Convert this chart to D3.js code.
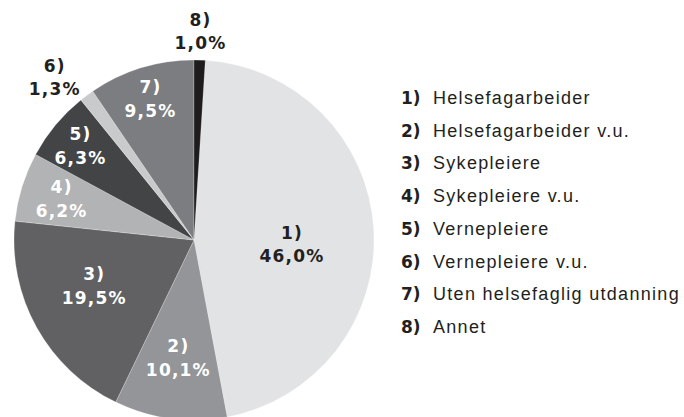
<!DOCTYPE html>
<html>
	<head>
		<title>Utdanning pie</title>
		<meta charset="UTF-8">
		<style type="text/css">
			body { margin: 0; background: #fff; }
			svg { display: block; }
			.lbl { font-family: "DejaVu Sans", sans-serif; font-weight: bold; font-size: 17px; letter-spacing: 1.2px; }
			.leg-num { font-family: "DejaVu Sans", sans-serif; font-weight: bold; font-size: 17px; }
			.leg-txt { font-family: "Liberation Sans", Arial, sans-serif; font-size: 18px; letter-spacing: 1.3px; }
		</style>
		<script src="https://d3js.org/d3.v7.min.js"></script>
	</head>

	<body>
		<script type="text/javascript">

			// data
			var ids = ["1)", "2)", "3)", "4)", "5)", "6)", "7)", "8)"];
			var names = ["Helsefagarbeider", "Helsefagarbeider v.u.", "Sykepleiere", "Sykepleiere v.u.",
				"Vernepleiere", "Vernepleiere v.u.", "Uten helsefaglig utdanning", "Annet"];
			var shares = [46.0, 10.1, 19.5, 6.2, 6.3, 1.3, 9.5, 1.0];
			var shareLabels = ["46,0%", "10,1%", "19,5%", "6,2%", "6,3%", "1,3%", "9,5%", "1,0%"];

			// styling
			var fills = ["#e2e3e5", "#939598", "#616163", "#b2b3b5", "#434446", "#c9cacc", "#7c7d80", "#1e1c1d"];
			var textFills = ["#231f20", "#fff", "#fff", "#fff", "#fff", "#231f20", "#fff", "#231f20"];
			// label placement: radius as fraction of pie radius, small angle shift in degrees
			var labelRadius = [0.545, 0.66, 0.61, 0.77, 0.82, 1.19, 0.82, 1.16];
			var labelShift = [6, 0, 4.5, 0, 0, -4, 0, 0];

			var width = 684, height = 417;
			var cx = 194, cy = 240, radius = 180;

			var svg = d3.select("body")
				.append("svg")
					.attr("width", width)
					.attr("height", height);

			var rows = d3.range(shares.length).map(function(i) {
				return {i: i, value: shares[i]};
			});

			// "Annet" sits first, right after 12 o'clock, then 1) .. 7) clockwise
			var pie = d3.pie()
				.value(function(d) { return d.value; })
				.sort(function(a, b) { return ((a.i + 1) % 8) - ((b.i + 1) % 8); });

			var arcs = pie(rows);

			var arc = d3.arc().innerRadius(0).outerRadius(radius);

			var g = svg.append("g")
				.attr("transform", "translate(" + cx + "," + cy + ")");

			g.selectAll("path.slice")
				.data(arcs)
				.enter()
				.append("path")
					.attr("class", "slice")
					.attr("d", arc)
					.attr("fill", function(d) { return fills[d.data.i]; })
					.attr("stroke", "#fff")
					.attr("stroke-width", 0.4)
					.attr("stroke-opacity", 0.6);

			// labels
			var lab = g.selectAll("text.lbl")
				.data(arcs)
				.enter()
				.append("text")
					.attr("class", "lbl")
					.attr("text-anchor", "middle")
					.attr("fill", function(d) { return textFills[d.data.i]; })
					.attr("transform", function(d) {
						var i = d.data.i;
						var r = labelRadius[i] * radius;
						var sh = labelShift[i] * Math.PI / 180;
						var p = d3.arc().innerRadius(r).outerRadius(r)
							.startAngle(d.startAngle + sh).endAngle(d.endAngle + sh).centroid();
						return "translate(" + p[0] + "," + p[1] + ")";
					});

			lab.append("tspan")
				.attr("x", 0)
				.attr("y", -5.5)
				.text(function(d) { return ids[d.data.i]; });

			lab.append("tspan")
				.attr("x", 0)
				.attr("y", 18)
				.text(function(d) { return shareLabels[d.data.i]; });

			// legend
			var ly = d3.scalePoint()
				.domain(ids)
				.range([104, 333]);

			var leg = svg.append("g").attr("class", "legend");

			var item = leg.selectAll("g.item")
				.data(ids)
				.enter()
				.append("g")
					.attr("class", "item")
					.attr("transform", function(d) { return "translate(401," + ly(d) + ")"; });

			item.append("text")
				.attr("class", "leg-num")
				.attr("fill", "#231f20")
				.text(function(d) { return d; });

			item.append("text")
				.attr("class", "leg-txt")
				.attr("x", 32)
				.attr("fill", "#231f20")
				.text(function(d, i) { return names[i]; });

		</script>
	</body>
</html>
